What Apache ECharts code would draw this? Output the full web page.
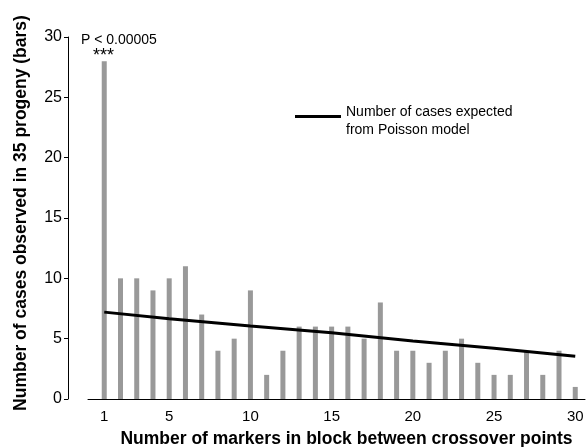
<!DOCTYPE html>
<html>
<head>
<meta charset="utf-8">
<script src="https://cdn.jsdelivr.net/npm/echarts@6/dist/echarts.min.js"></script>
<style>
  html, body { margin: 0; padding: 0; background: #fff; }
  #chart { width: 587px; height: 447px; }
</style>
</head>
<body>
<div id="chart"></div>
<script>
// markers in block (x) and observed cases (bars)
const markers = [1,2,3,4,5,6,7,8,9,10,11,12,13,14,15,16,17,18,19,20,21,22,23,24,25,26,27,28,29,30];
const observed = [28,10,10,9,10,11,7,4,5,9,2,4,6,6,6,6,5,8,4,4,3,4,5,3,2,2,4,2,4,1];
// expected from Poisson model, read at a few points
const expectedX = [1,5,10,15,20,25,30];
const expectedY = [7.2,6.65,6.05,5.5,4.8,4.2,3.55];
const xTickLabels = [1,5,10,15,20,25,30];

const font = 'Liberation Sans, Arial, Helvetica, sans-serif';
const chart = echarts.init(document.getElementById('chart'));

const option = {
  backgroundColor: '#fff',
  animation: false,
  textStyle: { fontFamily: font, color: '#000' },
  grid: { left: 88, right: 2, top: 37, bottom: 48, containLabel: false, outerBoundsMode: 'none' },
  legend: {
    data: ['expected'],
    left: 290,
    top: 93,
    icon: 'rect',
    itemWidth: 46,
    itemHeight: 3,
    itemGap: 10,
    // spacer line on top so the line sits beside the first text line
    formatter: () => '{s| }\n{t|Number of cases expected}\n{t|from Poisson model}',
    textStyle: {
      fontFamily: font, fontSize: 14, color: '#000',
      rich: {
        s: { fontSize: 1, lineHeight: 10 },
        t: { fontFamily: font, fontSize: 14, color: '#000', lineHeight: 18 }
      }
    }
  },
  xAxis: {
    type: 'value',
    min: 0,
    max: 30.6,
    interval: 1,
    name: 'Number of markers in block between crossover points',
    nameLocation: 'middle',
    nameGap: 31,
    nameTextStyle: { fontFamily: font, fontSize: 17.5, fontWeight: 'bold', color: '#000', padding: [0, 0, 0, 20] },
    axisLine: { show: true, onZero: false, lineStyle: { color: '#000', width: 1 } },
    axisTick: { show: false },
    splitLine: { show: false },
    axisLabel: {
      fontFamily: font, fontSize: 15, color: '#000', margin: 10,
      formatter: v => xTickLabels.indexOf(v) >= 0 ? String(v) : ''
    }
  },
  yAxis: {
    type: 'value',
    min: 0,
    max: 30,
    interval: 5,
    offset: 20,
    name: 'Number of cases observed in 35 progeny (bars)',
    nameLocation: 'middle',
    nameGap: 38,
    nameTextStyle: { fontFamily: font, fontSize: 17.5, fontWeight: 'bold', color: '#000', padding: [0, 0, 0, 10] },
    axisLine: { show: true, onZero: false, lineStyle: { color: '#000', width: 1 } },
    axisTick: { show: true, length: 4, lineStyle: { color: '#000' } },
    splitLine: { show: false },
    axisLabel: { fontFamily: font, fontSize: 16, color: '#000', margin: 6 }
  },
  graphic: [
    { type: 'text', left: 81, top: 33, style: { text: 'P < 0.00005', font: '14px ' + font, fill: '#000' } },
    { type: 'text', left: 93, top: 47, style: { text: '***', font: '18px ' + font, fill: '#000' } }
  ],
  series: [
    {
      name: 'observed',
      type: 'bar',
      barWidth: 5,
      itemStyle: { color: '#999999' },
      data: markers.map((m, i) => [m, observed[i]])
    },
    {
      name: 'expected',
      type: 'line',
      symbol: 'none',
      smooth: false,
      lineStyle: { color: '#000', width: 3 },
      itemStyle: { color: '#000' },
      data: expectedX.map((m, i) => [m, expectedY[i]]),
      z: 5
    }
  ]
};

chart.setOption(option);
</script>
</body>
</html>
